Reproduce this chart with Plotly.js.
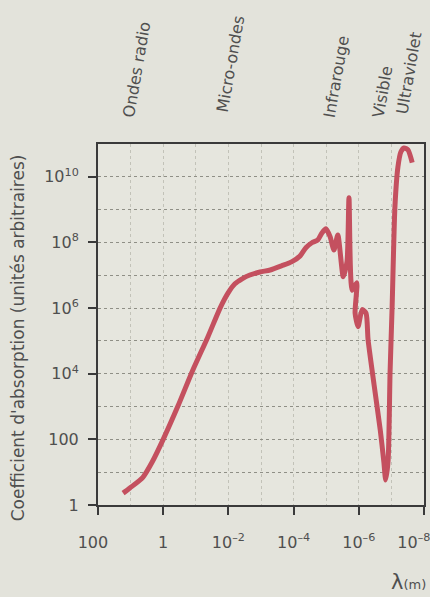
<!DOCTYPE html>
<html>
<head>
<meta charset="utf-8">
<script src="https://cdn.plot.ly/plotly-3.0.1.min.js"></script>
<style>html,body{margin:0;padding:0;background:#e3e3db;}</style>
</head>
<body>
<div id="chart" style="width:430px;height:597px;"></div>
<script>
// Wavelength (m) and absorption coefficient (arbitrary units)
const wavelength = [17, 10.5, 4.2, 2.2, 1, 0.35, 0.123, 0.043, 0.018, 0.0102, 0.0063, 0.0038,
  0.0022, 0.00107, 5.2e-4, 2.3e-4, 1.12e-4, 6.3e-5, 4.2e-5, 2.75e-5, 1.8e-5, 1.35e-5, 1.02e-5,
  7.6e-6, 5.8e-6, 4.4e-6, 3.0e-6, 2.3e-6, 2.0e-6,
  1.6e-6, 1.15e-6, 1.3e-6, 1.05e-6, 7.9e-7, 6.0e-7, 5.2e-7, 3.4e-7, 2.2e-7, 1.7e-7, 1.5e-7,
  1.26e-7, 1.1e-7, 9.5e-8, 7.8e-8, 6.3e-8, 5.1e-8, 4.1e-8, 3.1e-8, 2.3e-8];
const absorption = [2.3, 3.3, 7, 20, 100, 1050, 1.3e4, 1.3e5, 1e6, 2.9e6, 5.5e6, 7.8e6,
  1.02e7, 1.26e7, 1.45e7, 1.95e7, 2.6e7, 3.9e7, 6.9e7, 9.8e7, 1.2e8, 1.95e8, 2.6e8,
  1.5e8, 5.9e7, 1.7e8, 9e6, 2.6e7, 2.3e9,
  3.5e6, 5.9e6, 7e5, 2.7e5, 9e5, 7e5, 1.1e5, 4600, 195, 20, 5.8,
  23, 1.05e4, 1.1e6, 1.2e9, 2e10, 5.8e10, 7.6e10, 6.6e10, 2.7e10];

const NB = '\u00a0';
const xTickVals = [100, 1, 1e-2, 1e-4, 1e-6, 1e-8];
const xTickText = ['100' + NB + NB, '1', '10<sup>–2</sup>', '10<sup>–4</sup>', '10<sup>–6</sup>', '10<sup>–8</sup>' + NB + NB + NB + NB];
const yTickVals = [1, 100, 1e4, 1e6, 1e8, 1e10];
const yTickText = ['1', '100', '10<sup>4</sup>', '10<sup>6</sup>', '10<sup>8</sup>', '10<sup>10</sup>'];
const xGrid = [100, 10, 1, 1e-1, 1e-2, 1e-3, 1e-4, 1e-5, 1e-6, 1e-7, 1e-8];
const yGrid = [1, 10, 100, 1e3, 1e4, 1e5, 1e6, 1e7, 1e8, 1e9, 1e10, 1e11];

// Spectral bands (log10 of wavelength in m)
const bandNames = ['Micro-ondes', 'Infrarouge', 'Visible', 'Ultraviolet'];
const bandStart = [-0.12, -4.04, -6.10, -7.17];
const bandEnd = [-2.91, -5.88, -6.99, -7.97];
const labelNames = ['Ondes radio', 'Micro-ondes', 'Infrarouge', 'Visible', 'Ultraviolet'];
const labelX = [0.120, 0.408, 0.730, 0.871, 0.954];
const labelY = [1.205, 1.222, 1.188, 1.144, 1.195];

const FONT = 'DejaVu Sans, sans-serif';
const TXT = '#4f4f4f';

const trace = {
  x: wavelength, y: absorption, mode: 'lines', type: 'scatter',
  line: {color: '#c4505f', width: 5, shape: 'spline', smoothing: 0.6}, hoverinfo: 'skip'
};

const annotations = labelNames.map((t, i) => ({
  text: t, xref: 'paper', yref: 'paper', x: labelX[i], y: labelY[i],
  textangle: -80, showarrow: false, xanchor: 'center', yanchor: 'middle',
  font: {family: FONT, size: 16, color: TXT}
}));
annotations.push({
  text: "Coefficient d'absorption (unités arbitraires)", xref: 'paper', yref: 'paper',
  x: -0.245, y: 0.462, textangle: -90, showarrow: false, xanchor: 'center', yanchor: 'middle',
  font: {family: FONT, size: 17, color: TXT}
});
annotations.push({
  text: "λ<span style='font-size:13px'>(m)</span>", xref: 'paper', yref: 'paper',
  x: 1.012, y: -0.213, showarrow: false, xanchor: 'right', yanchor: 'middle',
  font: {family: FONT, size: 21, color: TXT}
});

const shapes = bandNames.map((n, i) => ({
  type: 'line', xref: 'x', yref: 'paper', x0: bandStart[i], x1: bandEnd[i], y0: 1.030, y1: 1.030,
  line: {color: '#3a3a3a', width: 2}
}));

const layout = {
  width: 430, height: 597,
  margin: {l: 98, r: 6, t: 144, b: 92},
  paper_bgcolor: '#e3e3db', plot_bgcolor: '#e6e6de',
  showlegend: false,
  font: {family: FONT, color: TXT},
  xaxis: {
    type: 'log', range: [2, -8],
    tickmode: 'array', tickvals: xTickVals, ticktext: xTickText,
    ticks: 'outside', ticklen: 8, tickwidth: 2, tickcolor: '#3a3a3a',
    ticklabelstandoff: 14, ticklabeloverflow: 'allow',
    tickfont: {family: FONT, size: 16, color: TXT},
    showline: true, mirror: true, linecolor: '#3a3a3a', linewidth: 2,
    showgrid: true, gridcolor: '#c2c2b8', gridwidth: 1, griddash: 'dot',
    minor: {tickmode: 'array', tickvals: xGrid, showgrid: true, gridcolor: '#c2c2b8', gridwidth: 1, griddash: 'dot', ticks: ''},
    zeroline: false, fixedrange: true
  },
  yaxis: {
    type: 'log', range: [0, 11],
    tickmode: 'array', tickvals: yTickVals, ticktext: yTickText,
    ticks: 'outside', ticklen: 8, tickwidth: 2, tickcolor: '#3a3a3a',
    ticklabelstandoff: 6, ticklabeloverflow: 'allow',
    tickfont: {family: FONT, size: 16, color: TXT},
    showline: true, mirror: true, linecolor: '#3a3a3a', linewidth: 2,
    showgrid: true, gridcolor: '#8f8f86', gridwidth: 1, griddash: 'dot',
    minor: {tickmode: 'array', tickvals: yGrid, showgrid: true, gridcolor: '#8f8f86', gridwidth: 1, griddash: 'dot', ticks: ''},
    zeroline: false, fixedrange: true
  },
  annotations: annotations,
  shapes: shapes
};

Plotly.newPlot('chart', [trace], layout, {staticPlot: true, displayModeBar: false});
</script>
</body>
</html>
